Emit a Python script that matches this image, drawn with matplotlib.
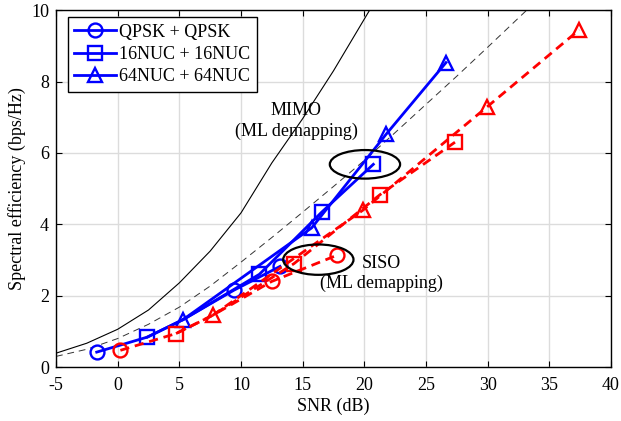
import matplotlib
matplotlib.use('Agg')
import matplotlib.pyplot as plt
from matplotlib.patches import Ellipse

plt.rcParams['font.family'] = ['Liberation Serif', 'DejaVu Serif']
plt.rcParams['axes.unicode_minus'] = False

# capacity curves
cap_snr = [-5, -2.5, 0, 2.5, 5, 7.5, 10, 12.5, 15, 17.5, 20, 22.5]
mimo_cap = [0.39, 0.67, 1.06, 1.60, 2.36, 3.25, 4.32, 5.72, 6.96, 8.30, 9.75, 11.2]
siso_snr = [-5, -2.5, 0, 2.5, 5, 7.5, 10, 12.5, 15, 17.5, 20, 22.5, 25, 27.5, 30, 32.5, 35]
siso_cap = [0.30, 0.50, 0.80, 1.20, 1.68, 2.27, 2.94, 3.63, 4.34, 5.06, 5.79, 6.57,
            7.36, 8.15, 8.96, 9.78, 10.6]

# MIMO (blue, solid)
mimo_qpsk_x = [-1.7, 2.4, 5.3, 9.4, 13.16]
mimo_qpsk_y = [0.42, 0.84, 1.33, 2.15, 2.82]
mimo_16_x = [2.4, 5.3, 11.49, 16.54, 20.73]
mimo_16_y = [0.84, 1.33, 2.60, 4.34, 5.68]
mimo_64_x = [5.3, 15.73, 21.76, 26.62]
mimo_64_y = [1.33, 3.90, 6.52, 8.53]

# SISO (red, dashed)
siso_qpsk_x = [0.22, 4.73, 7.7, 12.49, 17.76]
siso_qpsk_y = [0.47, 0.94, 1.45, 2.40, 3.13]
siso_16_x = [4.73, 7.7, 14.30, 21.27, 27.35]
siso_16_y = [0.94, 1.45, 2.90, 4.83, 6.30]
siso_64_x = [7.7, 19.86, 29.92, 37.43]
siso_64_y = [1.45, 4.39, 7.28, 9.45]

labels = ['QPSK + QPSK', '16NUC + 16NUC', '64NUC + 64NUC']

fs = 13

fig = plt.figure(figsize=(6.21, 4.21), dpi=100)
ax = fig.add_axes([0.0902, 0.128, 0.8937, 0.848])

ax.plot(cap_snr, mimo_cap, color='black', lw=0.8)
ax.plot(siso_snr, siso_cap, color='#333333', lw=0.7, dashes=(7, 5))

style = dict(lw=2.0, ms=10, mew=1.7, mfc='none')
ax.plot(mimo_qpsk_x, mimo_qpsk_y, '-o', color='blue', markevery=[0, 3, 4], label=labels[0], **style)
ax.plot(mimo_16_x, mimo_16_y, '-s', color='blue', markevery=[0, 2, 3, 4], label=labels[1], **style)
ax.plot(mimo_64_x, mimo_64_y, '-^', color='blue', label=labels[2], **style)

red = dict(style, dashes=(3.3, 2.1))
ax.plot(siso_qpsk_x, siso_qpsk_y, 'o', ls='--', color='red', markevery=[0, 3, 4], **red)
ax.plot(siso_16_x, siso_16_y, 's', ls='--', color='red', markevery=[0, 2, 3, 4], **red)
ax.plot(siso_64_x, siso_64_y, '^', ls='--', color='red', **red)

ax.add_patch(Ellipse((20.05, 5.68), 5.7, 0.8, fill=False, ec='black', lw=1.6, zorder=5))
ax.add_patch(Ellipse((16.27, 3.01), 5.7, 0.85, fill=False, ec='black', lw=1.6, zorder=5))
ax.text(14.46, 6.9, 'MIMO\n(ML demapping)', ha='center', va='center', fontsize=fs,
        linespacing=1.25)
ax.text(21.4, 2.62, 'SISO\n(ML demapping)', ha='center', va='center', fontsize=fs,
        linespacing=1.25)

ax.set_xlim(-5, 40)
ax.set_ylim(0, 10)
ax.set_xticks(range(-5, 41, 5))
ax.set_yticks(range(0, 11, 2))
ax.grid(True, color='#dcdcdc', lw=1.0)
ax.set_axisbelow(True)
ax.tick_params(direction='in', top=True, right=True, labelsize=fs, length=4)
ax.tick_params(axis='x', pad=7)
ax.tick_params(axis='y', pad=5)
for sp in ax.spines.values():
    sp.set_linewidth(1.0)
ax.set_xlabel('SNR (dB)', fontsize=fs, labelpad=3)
ax.set_ylabel('Spectral efficiency (bps/Hz)', fontsize=fs, labelpad=4)

leg = ax.legend(loc='upper left', bbox_to_anchor=(0.0216, 0.980), borderaxespad=0,
                fontsize=fs, fancybox=False, edgecolor='black', framealpha=1,
                handlelength=2.3, handletextpad=0.2, labelspacing=0.3, borderpad=0.35)
leg.get_frame().set_linewidth(1.0)

fig.savefig('out.png', dpi=100)
